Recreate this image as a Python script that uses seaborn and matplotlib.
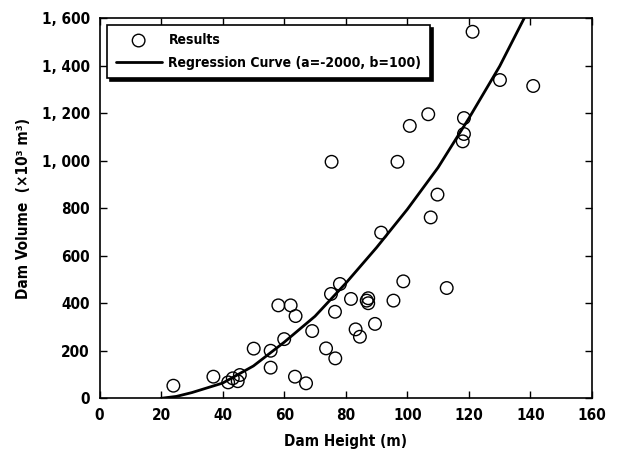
import matplotlib
matplotlib.use("Agg")
import matplotlib.pyplot as plt
import matplotlib.ticker as mticker
import seaborn as sns
import pandas as pd

# ---- data ----
dam_height = [24.0, 37.0, 41.8, 43.3, 44.9, 45.6, 50.1, 55.6, 55.6, 58.1,
              62.1, 63.7, 60.0, 63.5, 67.1, 69.1, 73.6, 76.6, 75.2, 78.1,
              76.5, 81.7, 83.2, 84.6, 86.8, 87.3, 87.3, 89.5, 95.5, 98.7,
              91.5, 107.6, 109.8, 112.8, 121.2, 130.1, 140.9, 106.8, 100.8, 118.4,
              118.4, 118.0, 96.8, 75.4]
dam_volume = [53, 91, 67, 84, 72, 98, 209, 200, 129, 391,
              391, 346, 249, 91, 63, 283, 210, 168, 439, 481,
              364, 418, 290, 259, 411, 421, 400, 313, 411, 492,
              697, 761, 857, 464, 1542, 1339, 1314, 1195, 1146, 1179,
              1112, 1081, 995, 995]

curve_height = [20, 25, 30, 40, 50, 60, 70, 80, 90, 100, 110, 120, 130, 138]
curve_volume = [0, 8, 24, 64, 136, 236, 345, 484, 634, 795, 971, 1178, 1397, 1600]

x_ticks = [0, 20, 40, 60, 80, 100, 120, 140, 160]
y_ticks = [0, 200, 400, 600, 800, 1000, 1200, 1400, 1600]

label_points = "Results"
label_curve = "Regression Curve (a=-2000, b=100)"
x_label = "Dam Height (m)"
y_label = "Dam Volume  (×10³ m³)"

pts = pd.DataFrame({"h": dam_height, "v": dam_volume})
crv = pd.DataFrame({"h": curve_height, "v": curve_volume})

sns.set_style("ticks")
plt.rcParams["font.family"] = ["DejaVu Sans"]
plt.rcParams["font.stretch"] = "condensed"
plt.rcParams["font.weight"] = "bold"
plt.rcParams["text.color"] = "black"
plt.rcParams["axes.labelcolor"] = "black"

W, H = 617, 454
fig = plt.figure(figsize=(W / 100, H / 100), dpi=100)
x0, x1, y0, y1 = 99.5, 592, 18, 398.3
ax = fig.add_axes([x0 / W, 1 - y1 / H, (x1 - x0) / W, (y1 - y0) / H])

sns.scatterplot(data=pts, x="h", y="v", ax=ax, marker="o", s=82,
                facecolor="none", edgecolor="black", linewidth=1.0,
                label=label_points, zorder=3)
sns.lineplot(data=crv, x="h", y="v", ax=ax, color="black", linewidth=2.0,
             sort=False, label=label_curve, zorder=2)

ax.set_xlim(0, 160)
ax.set_ylim(0, 1600)
ax.set_xticks(x_ticks)
ax.set_yticks(y_ticks)
ax.yaxis.set_major_formatter(mticker.FuncFormatter(lambda v, p: f"{int(v):,}".replace(",", ", ")))

for s in ax.spines.values():
    s.set_visible(True)
    s.set_linewidth(1.2)
    s.set_color("black")
ax.tick_params(direction="in", length=5, width=1.0, top=True, right=True,
               labelsize=11, pad=7, colors="black")
for lab in ax.get_xticklabels() + ax.get_yticklabels():
    lab.set_fontweight("bold")
    lab.set_fontstretch("condensed")

ax.set_xlabel(x_label, fontsize=11, fontweight="bold", labelpad=8, color="black")
ax.set_ylabel(y_label, fontsize=11, fontweight="bold", labelpad=8, color="black")

leg = ax.legend(loc="upper left", bbox_to_anchor=(0.016, 0.982),
                borderaxespad=0, fancybox=False, frameon=True,
                shadow={"color": "black", "alpha": 1.0},
                fontsize=10, handlelength=3.3, handletextpad=0.5,
                labelspacing=0.6, borderpad=0.6)
leg.get_frame().set_edgecolor("black")
leg.get_frame().set_linewidth(1.2)
leg.get_frame().set_alpha(1.0)
for t in leg.get_texts():
    t.set_fontweight("bold")
    t.set_fontstretch("condensed")
    t.set_color("black")

fig.savefig("out.png", dpi=100)
